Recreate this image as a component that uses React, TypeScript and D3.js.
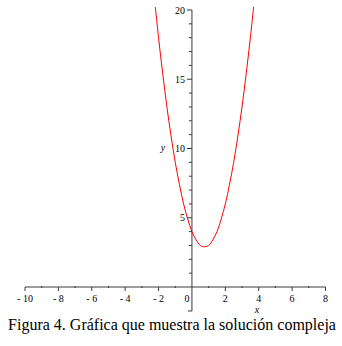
import React from "react";
import * as d3 from "d3";

const curveX = [-2.25, -2.0, -1.75, -1.5, -1.25, -1.0, -0.75, -0.5, -0.25, 0.0, 0.25, 0.5, 0.75, 1.0, 1.25, 1.5, 1.75, 2.0, 2.25, 2.5, 2.75, 3.0, 3.25, 3.5, 3.75];
const curveY = [20.9, 18.0, 15.4, 13.0, 10.9, 9.0, 7.4, 6.0, 4.9, 4.0, 3.4, 3.0, 2.9, 3.0, 3.4, 4.0, 4.9, 6.0, 7.4, 9.0, 10.9, 13.0, 15.4, 18.0, 20.9];
const xTickLabels = [-10, -8, -6, -4, -2, 0, 2, 4, 6, 8];
const xMinorTicks = [-9, -7, -5, -3, -1, 1, 3, 5, 7];
const yTickLabels = [5, 10, 15, 20];
const yMinorTicks = [1, 2, 3, 4, 6, 7, 8, 9, 11, 12, 13, 14, 16, 17, 18, 19];
const caption = "Figura 4. Gráfica que muestra la solución compleja";

export default function App() {
  const x = d3.scaleLinear().domain([-10, 8]).range([25, 325.5]);
  const y = d3.scaleLinear().domain([0, 20]).range([287, 10]);
  const x0 = x(0);
  const y0 = y(0);
  const pts: [number, number][] = curveX.map((v, i) => [v, curveY[i]]);
  const line = d3
    .line<[number, number]>()
    .x((d) => x(d[0]))
    .y((d) => y(d[1]))
    .curve(d3.curveCatmullRom);
  const font = "'Liberation Serif', 'Times New Roman', serif";
  const axisColor = "#3a3a3a";
  return (
    <svg
      width={342}
      height={346}
      style={{ position: "absolute", left: 0, top: 0, background: "#fff" }}
    >
      <defs>
        <clipPath id="plotclip">
          <rect x={0} y={7} width={342} height={300} />
        </clipPath>
      </defs>
      {/* x axis */}
      <line x1={x(-10)} x2={x(8)} y1={y0} y2={y0} stroke={axisColor} strokeWidth={1} />
      {xTickLabels.map((t) =>
        t === 0 ? null : (
          <line key={"xt" + t} x1={x(t)} x2={x(t)} y1={y0} y2={y0 + 4} stroke={axisColor} strokeWidth={1} />
        )
      )}
      {xMinorTicks.map((t) => (
        <line key={"xm" + t} x1={x(t)} x2={x(t)} y1={y0 - 1} y2={y0 + 1} stroke={axisColor} strokeWidth={1} />
      ))}
      {xTickLabels.map((t) => (
        <text
          key={"xl" + t}
          x={t === 0 ? x0 - 5 : x(t)}
          y={y0 + 15}
          fontSize={10}
          fontFamily={font}
          textAnchor="middle"
          fill="#000"
        >
          {t < 0 ? "- " + Math.abs(t) : String(t)}
        </text>
      ))}
      {/* y axis */}
      <line x1={x0} x2={x0} y1={y(20)} y2={311} stroke={axisColor} strokeWidth={1} />
      <line x1={x0} x2={x0 - 4} y1={311} y2={311} stroke={axisColor} strokeWidth={1} />
      {yTickLabels.map((t) => (
        <line key={"yt" + t} x1={x0} x2={x0 - 5} y1={y(t)} y2={y(t)} stroke={axisColor} strokeWidth={1} />
      ))}
      {yMinorTicks.map((t) => (
        <line key={"ym" + t} x1={x0} x2={x0 - 3} y1={y(t)} y2={y(t)} stroke={axisColor} strokeWidth={1} />
      ))}
      {yTickLabels.map((t) => (
        <text
          key={"yl" + t}
          x={x0 - 7}
          y={y(t) + 3.5}
          fontSize={10}
          fontFamily={font}
          textAnchor="end"
          fill="#000"
        >
          {t}
        </text>
      ))}
      <text x={163} y={151} fontSize={10} fontFamily={font} fontStyle="italic" textAnchor="middle">
        y
      </text>
      <text x={257} y={313} fontSize={10} fontFamily={font} fontStyle="italic" textAnchor="middle">
        x
      </text>
      {/* curve */}
      <path d={line(pts) || ""} fill="none" stroke="#ff0000" strokeWidth={1} clipPath="url(#plotclip)" />
      {/* caption */}
      <text x={172} y={330} fontSize={16} fontFamily={font} textAnchor="middle" fill="#000">
        {caption}
      </text>
    </svg>
  );
}
